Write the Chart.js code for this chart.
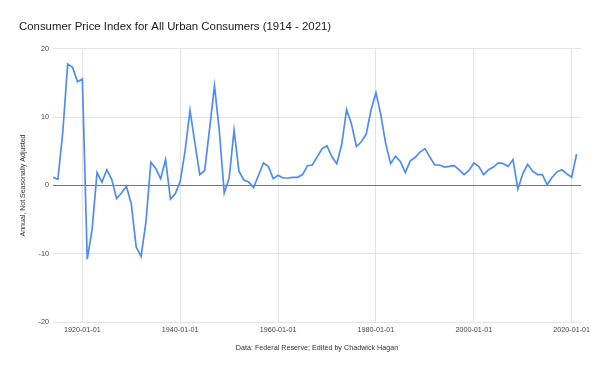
<!DOCTYPE html>
<html>
<head>
<meta charset="utf-8">
<script src="https://cdn.jsdelivr.net/npm/chart.js@4"></script>
<style>
  html, body { margin: 0; padding: 0; background: #fff; }
  #wrap { width: 600px; height: 371px; }
</style>
</head>
<body>
<div id="wrap"><canvas id="cpi-chart" width="600" height="371"></canvas></div>
<script>
// Years shown on the chart
const years = [
  1914, 1915, 1916, 1917, 1918, 1919, 1920, 1921, 1922, 1923, 1924, 1925, 1926, 1927, 1928, 1929,
  1930, 1931, 1932, 1933, 1934, 1935, 1936, 1937, 1938, 1939, 1940, 1941, 1942, 1943, 1944, 1945,
  1946, 1947, 1948, 1949, 1950, 1951, 1952, 1953, 1954, 1955, 1956, 1957, 1958, 1959, 1960, 1961,
  1962, 1963, 1964, 1965, 1966, 1967, 1968, 1969, 1970, 1971, 1972, 1973, 1974, 1975, 1976, 1977,
  1978, 1979, 1980, 1981, 1982, 1983, 1984, 1985, 1986, 1987, 1988, 1989, 1990, 1991, 1992, 1993,
  1994, 1995, 1996, 1997, 1998, 1999, 2000, 2001, 2002, 2003, 2004, 2005, 2006, 2007, 2008, 2009,
  2010, 2011, 2012, 2013, 2014, 2015, 2016, 2017, 2018, 2019, 2020, 2021
];

// Annual % change
const cpiChange = [
  1.2, 0.9, 7.8, 17.8, 17.3, 15.2, 15.6, -10.8, -6.4, 1.9, 0.5, 2.3, 0.9, -1.9, -1.1, -0.1,
  -2.7, -9.0, -10.4, -5.3, 3.4, 2.5, 1.0, 3.8, -2.0, -1.2, 0.6, 5.1, 11.0, 6.2, 1.6, 2.2,
  8.3, 14.6, 7.9, -1.1, 1.1, 8.1, 2.1, 0.8, 0.5, -0.3, 1.5, 3.3, 2.8, 1.0, 1.5, 1.1,
  1.1, 1.2, 1.2, 1.6, 2.9, 3.0, 4.2, 5.4, 5.8, 4.2, 3.2, 6.0, 11.1, 9.0, 5.7, 6.4,
  7.5, 11.1, 13.6, 10.3, 6.1, 3.2, 4.3, 3.5, 1.9, 3.6, 4.1, 4.9, 5.4, 4.2, 3.0, 3.0,
  2.7, 2.8, 2.9, 2.3, 1.6, 2.2, 3.3, 2.8, 1.6, 2.3, 2.7, 3.3, 3.2, 2.8, 3.8, -0.5,
  1.7, 3.1, 2.1, 1.6, 1.6, 0.1, 1.2, 2.0, 2.3, 1.7, 1.2, 4.6
];

// Tick positions
const xTickYears = [1920, 1940, 1960, 1980, 2000, 2020];
const yTicks = [-20, -10, 0, 10, 20];

const FONT = '"Liberation Sans", Arial, sans-serif';

const points = years.map((y, i) => ({ x: y, y: cpiChange[i] }));

const ctx = document.getElementById('cpi-chart').getContext('2d');
new Chart(ctx, {
  type: 'line',
  data: {
    datasets: [{
      data: points,
      borderColor: '#4f8cf2',
      borderWidth: 1.7,
      pointRadius: 0,
      tension: 0,
      fill: false
    }]
  },
  options: {
    responsive: false,
    animation: false,
    layout: { padding: { left: 19, right: 19, top: 0, bottom: 19 } },
    plugins: {
      legend: { display: false },
      tooltip: { enabled: false },
      title: {
        display: true,
        text: 'Consumer Price Index for All Urban Consumers (1914 - 2021)',
        align: 'start',
        color: '#1a1a1a',
        font: { family: FONT, size: 11.4, weight: 'normal' },
        padding: { top: 20, bottom: 15.3 }
      }
    },
    scales: {
      x: {
        type: 'linear',
        min: 1914,
        max: 2021.9,
        afterBuildTicks: (scale) => { scale.ticks = xTickYears.map(v => ({ value: v })); },
        afterFit: (scale) => { scale.height = 30; },
        border: { display: false },
        grid: { color: '#e3e3e3', lineWidth: 1, drawTicks: false },
        ticks: {
          autoSkip: false,
          maxRotation: 0,
          padding: 4,
          color: '#444',
          font: { family: FONT, size: 7.2 },
          callback: (v) => v + '-01-01'
        },
        title: {
          display: true,
          text: 'Data: Federal Reserve; Edited by Chadwick Hagan',
          color: '#333',
          font: { family: FONT, size: 7.2 },
          padding: 0
        }
      },
      y: {
        min: -20,
        max: 20,
        afterBuildTicks: (scale) => { scale.ticks = yTicks.map(v => ({ value: v })); },
        afterFit: (scale) => { scale.width = 34; },
        border: { display: false },
        grid: {
          drawTicks: false,
          lineWidth: 1,
          color: (c) => (c.tick && c.tick.value === 0 ? '#777' : '#e3e3e3')
        },
        ticks: {
          padding: 4,
          color: '#444',
          font: { family: FONT, size: 7.2 }
        },
        title: {
          display: true,
          text: 'Annual, Not Seasonally Adjusted',
          color: '#333',
          font: { family: FONT, size: 7 },
          padding: 0
        }
      }
    }
  }
});
</script>
</body>
</html>
